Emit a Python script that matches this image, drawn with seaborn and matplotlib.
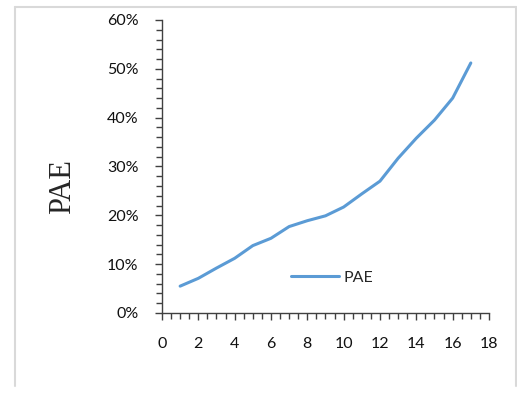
import matplotlib
matplotlib.use("Agg")
import matplotlib.pyplot as plt
import seaborn as sns
import pandas as pd
from matplotlib.ticker import MultipleLocator, FuncFormatter
from matplotlib.lines import Line2D

sns.set_style("white")
plt.rcParams['font.family'] = ['Lato', 'DejaVu Sans']

x_vals = [1, 2, 3, 4, 5, 6, 7, 8, 9, 10, 11, 12, 13, 14, 15, 16, 17]
pae = [0.055, 0.071, 0.092, 0.112, 0.138, 0.153, 0.177, 0.189, 0.199, 0.217,
       0.244, 0.270, 0.317, 0.358, 0.395, 0.440, 0.512]
series_name = "PAE"

df = pd.DataFrame({"x": x_vals, "y": pae, "series": series_name})

fig = plt.figure(figsize=(5.17, 3.96), dpi=100)
ax = fig.add_axes([0.3133, 0.2096, 0.6325, 0.7399])

sns.lineplot(data=df, x="x", y="y", ax=ax, color="#5B9BD5", linewidth=2.2,
             label=series_name)

ax.set_xlim(0, 18)
ax.set_ylim(0, 0.6)
ax.xaxis.set_major_locator(MultipleLocator(2))
ax.xaxis.set_minor_locator(MultipleLocator(0.5))
ax.yaxis.set_major_locator(MultipleLocator(0.1))
ax.yaxis.set_minor_locator(MultipleLocator(0.02))
ax.yaxis.set_major_formatter(FuncFormatter(lambda v, p: f"{v*100:.0f}%"))

for s in ["top", "right"]:
    ax.spines[s].set_visible(False)
for s in ["left", "bottom"]:
    ax.spines[s].set_color("#404040")
    ax.spines[s].set_linewidth(1.0)

ax.tick_params(axis="both", which="both", direction="out", color="#404040",
               width=1.0, labelsize=11.5, labelcolor="#111111",
               bottom=True, left=True, top=False, right=False)
ax.tick_params(axis="both", which="major", length=5)
ax.tick_params(axis="both", which="minor", length=4)
ax.tick_params(axis="x", which="major", pad=12)
ax.tick_params(axis="y", which="major", pad=12)

ax.set_xlabel("")
ax.set_ylabel("PAE", family=["Liberation Serif", "DejaVu Serif"], fontsize=22)
ax.yaxis.set_label_coords(-0.26, 0.43)

handles = [Line2D([0], [0], color="#5B9BD5", linewidth=2.2)]
ax.legend(handles, [series_name], loc="center left",
          bbox_to_anchor=(0.35, 0.12), frameon=False, fontsize=11.5,
          handlelength=3.0, handletextpad=0.3)

# outer light gray frame
fc = "#D9D9D9"
fig.add_artist(Line2D([15/517, 15/517], [1-7/396, 1-386/396], color=fc, lw=1.5,
                      transform=fig.transFigure))
fig.add_artist(Line2D([15/517, 516/517], [1-7/396, 1-7/396], color=fc, lw=1.5,
                      transform=fig.transFigure))
fig.add_artist(Line2D([516/517, 516/517], [1-7/396, 1-386/396], color=fc, lw=1.5,
                      transform=fig.transFigure))

fig.savefig("out.png", dpi=100)
